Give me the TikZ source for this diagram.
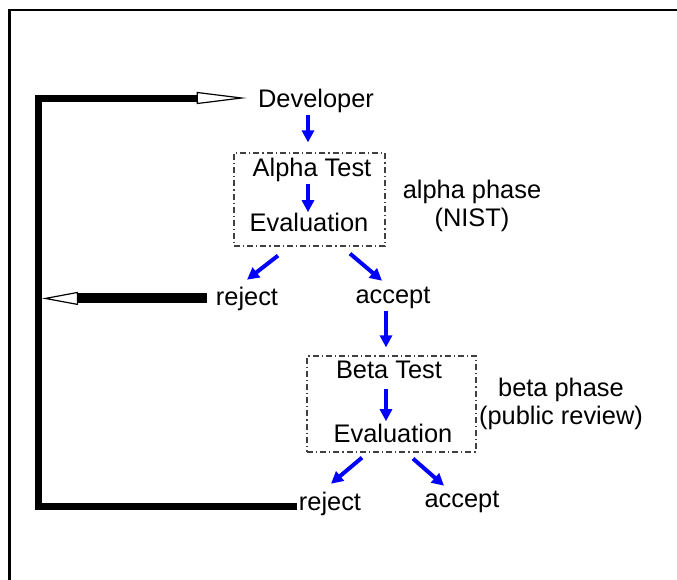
\documentclass[tikz,border=0pt]{standalone}
\usepackage{fontspec}
\setmainfont{Liberation Sans}
\usetikzlibrary{arrows.meta}

\begin{document}
\begin{tikzpicture}[
    x=0.5pt, y=-0.5pt,
    font=\fontsize{12.7}{14}\selectfont,
    txt/.style={inner sep=1pt, anchor=base},
    phase/.style={inner sep=0pt, anchor=base, align=center},
    phasebox/.style={rectangle, draw=black!75, line width=0.6pt, inner sep=0pt, dash pattern=on 3pt off 1.5pt on 0.6pt off 1.5pt},
    flow/.style={draw=blue, line width=2pt, -{Triangle[length=6pt, width=6pt]}},
    feedback/.style={line width=3.5pt, line join=miter}
]
\useasboundingbox (0,0) rectangle (677,580);

% Frame
\draw[line width=1pt] (9.5,580) -- (9.5,9.5) -- (677,9.5);

% Developer
\node[txt] (dev) at (316,107) {Developer};

% Alpha phase
\node[phasebox, minimum width=75.5pt, minimum height=46.5pt] (abox) at (309.5,199.5) {};
\node[txt] (atest) at (312,176) {Alpha Test};
\node[txt] (aeval) at (309,231) {Evaluation};
\node[phase] (aphase) at (472,226) {alpha phase\\(NIST)};
\node[txt] (rej1) at (247,305) {reject};
\node[txt] (acc1) at (393,303) {accept};

% Beta phase
\node[phasebox, minimum width=84.5pt, minimum height=48pt] (bbox) at (391.5,404) {};
\node[txt] (btest) at (389,378) {Beta Test};
\node[txt] (beval) at (393,442) {Evaluation};
\node[phase] (bphase) at (561,424) {beta phase\\(public review)};
\node[txt] (rej2) at (330,510) {reject};
\node[txt] (acc2) at (462,507) {accept};

% Feedback corners
\coordinate (tl) at (39,98);
\coordinate (bl) at (39,506);

% Arrows
\draw[flow] ([shift={(-8,0)}]dev.south) -- ([shift={(-1.5,-10)}]abox.north);
\draw[flow] ([shift={(-4,0)}]atest.south) -- ([shift={(-1,2)}]aeval.north);
\draw[flow] ([shift={(-31.5,9)}]abox.south) -- ([shift={(0,-4.5)}]rej1.north);
\draw[flow] ([shift={(40.5,7)}]abox.south) -- ([shift={(-11,-3.5)}]acc1.north);
\draw[flow] ([shift={(-7,0)}]acc1.south) -- ([shift={(-5.5,-8)}]bbox.north);
\draw[flow] ([shift={(-3,8)}]btest.south) -- ([shift={(-7,0)}]beval.north);
\draw[flow] ([shift={(-29.5,5)}]bbox.south) -- ([shift={(1,-5.5)}]rej2.north);
\draw[flow] ([shift={(21.5,6)}]bbox.south) -- ([shift={(-18,-2.5)}]acc2.north);

% Rejections back to the developer
\draw[feedback, -{Triangle[open, length=25pt, width=6pt, line width=0.6pt]}, shorten >=4.5pt]
    (rej2.west |- bl) -- (bl) -- (tl) -- (dev.west |- tl);
\draw[feedback, line width=5pt, -{Triangle[open, length=18pt, width=6.5pt, line width=0.6pt]}, shorten <=3.5pt, shorten >=1.5pt]
    (rej1.west) -- (rej1.west -| tl);

\end{tikzpicture}
\end{document}
